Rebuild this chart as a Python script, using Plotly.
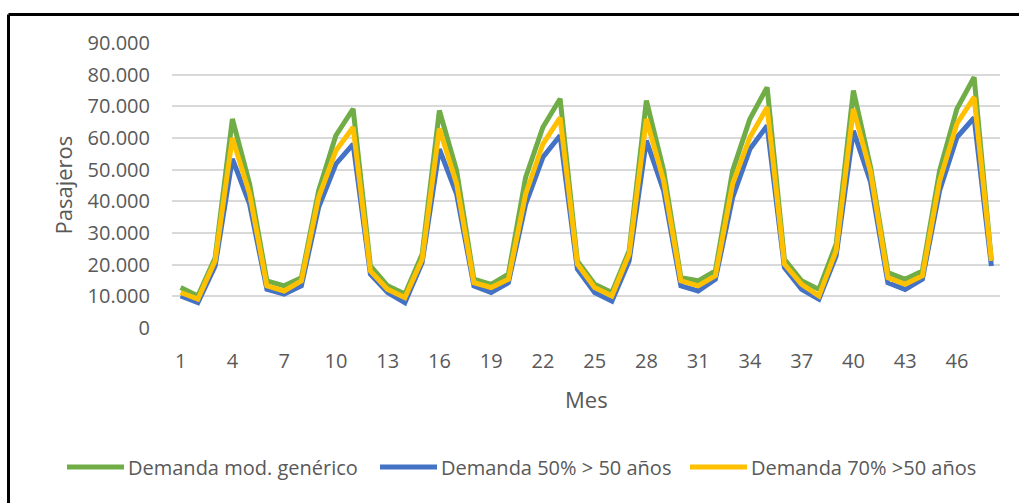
import plotly.graph_objects as go

# Monthly passenger demand (48 months)
meses = list(range(1, 49))

demanda_generico = [12800, 10100, 22200, 66000, 45500, 14900, 13300, 15900, 43400, 60800, 69200, 19600,
                    13300, 10700, 23300, 68700, 49700, 15400, 13800, 17000, 47600, 63400, 72400, 21200,
                    13800, 11200, 24400, 71800, 49700, 15900, 14900, 18000, 49700, 66000, 76000, 21700,
                    14900, 12200, 26500, 75000, 50700, 17500, 15400, 18000, 49700, 69200, 79200, 21200]

demanda_50 = [10100, 8000, 19600, 53400, 39100, 12200, 10700, 13300, 38100, 51800, 58100, 17000,
              11200, 8000, 20700, 56500, 42300, 13300, 11200, 14300, 39100, 53900, 60800, 18600,
              11200, 8500, 21200, 59200, 43400, 13300, 11700, 15400, 41200, 56500, 63900, 19100,
              12200, 9100, 22800, 62300, 46000, 14300, 12200, 15400, 43400, 60200, 66400, 19600]

demanda_70 = [11200, 9100, 21200, 60000, 42300, 13300, 11700, 14900, 41200, 56000, 63400, 18000,
              12200, 9600, 21700, 63000, 45500, 14300, 12800, 15400, 42300, 58100, 66400, 20200,
              12800, 10100, 23300, 66000, 46500, 14900, 13300, 16500, 45500, 60200, 69700, 20200,
              13800, 10100, 24400, 69200, 49100, 15900, 13800, 16500, 46500, 64500, 72900, 21200]

series_names = ["Demanda mod. genérico", "Demanda 50% > 50 años", "Demanda 70% >50 años"]
series_values = [demanda_generico, demanda_50, demanda_70]
series_colors = ["#70AD47", "#4472C4", "#FFC000"]

x_ticks = list(range(1, 47, 3))
y_ticks = list(range(0, 90001, 10000))

FONT = "Open Sans"
GRAY = "#595959"

W, H = 1019, 503
L, R, T, B = 172, 19, 43, 175
pw, ph = W - L - R, H - T - B


def px_x(p):
    return (p - L) / pw


def px_y(p):
    return (H - B - p) / ph


fig = go.Figure()
for name, vals, color in zip(series_names, series_values, series_colors):
    fig.add_trace(go.Scatter(x=meses, y=vals, name=name, mode="lines",
                             line=dict(color=color, width=5), showlegend=False))

# Legend row drawn by hand: a line swatch followed by the series name
legend_starts = [67, 380, 690]
legend_y = 467
shapes = []
annotations = []
for x0, name, color in zip(legend_starts, series_names, series_colors):
    shapes.append(dict(type="line", xref="paper", yref="paper",
                       x0=px_x(x0), x1=px_x(x0 + 57), y0=px_y(legend_y), y1=px_y(legend_y),
                       line=dict(color=color, width=5)))
    annotations.append(dict(text=name, x=px_x(x0 + 59), y=px_y(legend_y), xref="paper", yref="paper",
                            showarrow=False, xanchor="left", yanchor="middle",
                            font=dict(family=FONT, size=20, color=GRAY)))

# Axis titles
annotations.append(dict(text="Mes", x=0.5, y=px_y(399), xref="paper", yref="paper",
                        showarrow=False, font=dict(size=22, color=GRAY),
                        xanchor="center", yanchor="middle"))
annotations.append(dict(text="Pasajeros", x=px_x(62), y=0.5, xref="paper", yref="paper",
                        textangle=-90, showarrow=False, font=dict(size=22, color=GRAY),
                        xanchor="center", yanchor="middle"))

# Frame edges (left and top)
shapes.append(dict(type="line", xref="paper", yref="paper", x0=px_x(8.5), x1=px_x(1030),
                   y0=px_y(14.5), y1=px_y(14.5), line=dict(color="black", width=3)))
shapes.append(dict(type="line", xref="paper", yref="paper", x0=px_x(8.5), x1=px_x(8.5),
                   y0=px_y(14.5), y1=px_y(520), line=dict(color="black", width=3)))

fig.update_layout(
    width=W, height=H,
    margin=dict(l=L, r=R, t=T, b=B, pad=0),
    paper_bgcolor="white", plot_bgcolor="white",
    separators=",.",
    font=dict(family=FONT, color=GRAY),
    showlegend=False,
    xaxis=dict(range=[0.5, 48.5], tickvals=x_ticks, showgrid=False, zeroline=False,
               showline=False, ticks="", tickfont=dict(size=20, color=GRAY),
               ticklabelstandoff=19),
    yaxis=dict(range=[0, 90000], tickvals=y_ticks, tickformat=",d",
               showgrid=True, gridcolor="#D9D9D9", gridwidth=2,
               zeroline=False, showline=False, ticks="",
               tickfont=dict(size=20, color=GRAY), ticklabelstandoff=21),
    annotations=annotations,
    shapes=shapes,
)

fig.write_html("out.html")
